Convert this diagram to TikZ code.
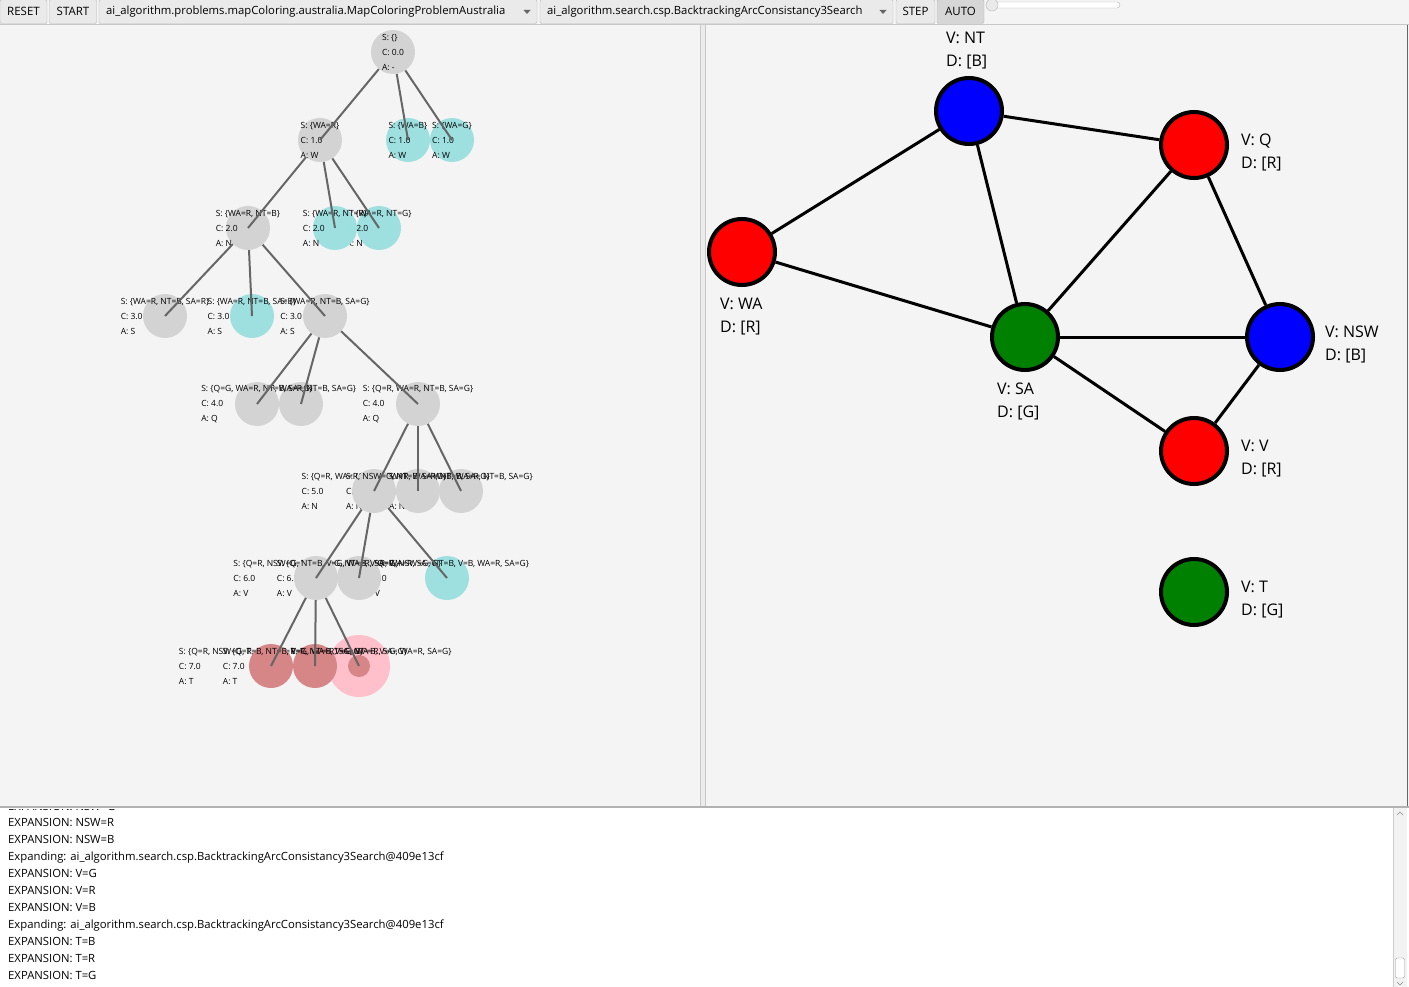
\documentclass[tikz,border=0pt]{standalone}
\usepackage{fontspec}
\setmainfont{Open Sans}

\definecolor{panelbg}{RGB}{244,244,244}
\definecolor{treegray}{RGB}{211,211,211}
\definecolor{treecyan}{RGB}{158,224,224}
\definecolor{deadpink}{RGB}{214,134,134}
\definecolor{goalpink}{RGB}{255,192,203}
\definecolor{edgegray}{RGB}{102,102,102}
\definecolor{sepgray}{RGB}{200,200,200}
\definecolor{btnborder}{RGB}{180,180,180}
\definecolor{btnfill}{RGB}{234,234,234}
\definecolor{btnpressed}{RGB}{214,214,214}
\definecolor{mapgreen}{RGB}{0,128,0}

\tikzset{
  tnode/.style={circle, fill=treegray, minimum size=44pt, inner sep=0pt},
  tfail/.style={tnode, fill=treecyan},
  tdead/.style={tnode, fill=deadpink},
  thalo/.style={circle, fill=goalpink, minimum size=62pt, inner sep=0pt},
  tcore/.style={circle, fill=deadpink, minimum size=22pt, inner sep=0pt},
  tinfo/.style={align=left, inner sep=0pt, font=\fontsize{8.5}{15}\selectfont},
  tedge/.style={draw=edgegray, line width=2pt},
  region/.style={circle, draw=black, line width=4pt, minimum size=66pt, inner sep=0pt},
  border/.style={black, line width=3pt},
  vlabel/.style={align=left, anchor=west, inner sep=0pt, font=\fontsize{16}{23}\selectfont},
  logline/.style={anchor=base west, inner sep=0pt, font=\fontsize{11.3}{14}\selectfont},
  tbutton/.style={draw=btnborder, fill=btnfill, rounded corners=2pt, minimum height=24pt, inner sep=0pt, font=\fontsize{11.5}{14}\selectfont},
  combotext/.style={anchor=west, inner sep=0pt, font=\fontsize{11.3}{14}\selectfont},
}

\begin{document}
\begin{tikzpicture}[x=1pt, y=-1pt]
	\useasboundingbox (0,0) rectangle (1409,987);
	
	% panels
	\fill[panelbg] (0,0) rectangle (1409,807);
	\draw[sepgray] (0,24.5) -- (1409,24.5);
	\fill[black!8] (700,25) rectangle (706,806);
	\draw[sepgray] (700.5,25) -- (700.5,806);
	\draw[sepgray] (705.5,25) -- (705.5,806);
	\draw[black!60] (1407.5,25) -- (1407.5,806);
	\fill[white] (0,808) rectangle (1409,987);
	\draw[black!30, line width=1.5pt] (0,807) -- (1409,807);
	
	% toolbar
	\node[tbutton, minimum width=47pt] (reset) at (23.5,11.5) {RESET};
	\node[tbutton, minimum width=47pt] (start) at (73,11.5) {START};
	\node[tbutton, minimum width=438pt] (problem) at (318,11.5) {};
	\node[combotext] (problem-t) at (106,11.5) {ai\_algorithm.problems.mapColoring.australia.MapColoringProblemAustralia};
	\fill[black!60] (523.5,10) -- (530.5,10) -- (527,14) -- cycle;
	\node[tbutton, minimum width=353pt] (search) at (716.5,11.5) {};
	\node[combotext] (search-t) at (547,11.5) {ai\_algorithm.search.csp.BacktrackingArcConsistancy3Search};
	\fill[black!60] (879.5,10) -- (886.5,10) -- (883,14) -- cycle;
	\node[tbutton, minimum width=39pt] (step) at (915.5,11.5) {STEP};
	\node[tbutton, minimum width=47pt, fill=btnpressed] (auto) at (960.5,11.5) {AUTO};
	\draw[btnborder, fill=white, rounded corners=3pt] (993,2) rectangle (1120,8);
	\draw[btnborder, fill=btnfill] (992,5) circle (6);
	
	% search tree, level 0
	\node[tnode] (n0) at (393,52) {};
	\node[tinfo] (n0-t) at (n0) {S: \{\}\\C: 0.0\\A: -};
	
	% level 1
	\node[tfail] (n1c) at (452,140) {};
	\node[tinfo] (n1c-t) at (n1c) {S: \{WA=G\}\\C: 1.0\\A: W};
	\node[tfail] (n1b) at (408,140) {};
	\node[tinfo] (n1b-t) at (n1b) {S: \{WA=B\}\\C: 1.0\\A: W};
	\node[tnode] (n1a) at (320,140) {};
	\node[tinfo] (n1a-t) at (n1a) {S: \{WA=R\}\\C: 1.0\\A: W};
	
	% level 2
	\node[tfail] (n2c) at (379,228) {};
	\node[tinfo] (n2c-t) at (n2c) {S: \{WA=R, NT=G\}\\C: 2.0\\A: N};
	\node[tfail] (n2b) at (335,228) {};
	\node[tinfo] (n2b-t) at (n2b) {S: \{WA=R, NT=R\}\\C: 2.0\\A: N};
	\node[tnode] (n2a) at (248,228) {};
	\node[tinfo] (n2a-t) at (n2a) {S: \{WA=R, NT=B\}\\C: 2.0\\A: N};
	
	% level 3
	\node[tnode] (n3c) at (325,316) {};
	\node[tinfo] (n3c-t) at (n3c) {S: \{WA=R, NT=B, SA=G\}\\C: 3.0\\A: S};
	\node[tfail] (n3b) at (252,316) {};
	\node[tinfo] (n3b-t) at (n3b) {S: \{WA=R, NT=B, SA=B\}\\C: 3.0\\A: S};
	\node[tnode] (n3a) at (165,316) {};
	\node[tinfo] (n3a-t) at (n3a) {S: \{WA=R, NT=B, SA=R\}\\C: 3.0\\A: S};
	
	% level 4
	\node[tnode] (n4c) at (418,404) {};
	\node[tinfo] (n4c-t) at (n4c) {S: \{Q=R, WA=R, NT=B, SA=G\}\\C: 4.0\\A: Q};
	\node[tnode] (n4b) at (301,404) {};
	\node[tinfo] (n4b-t) at (n4b) {S: \{Q=B, WA=R, NT=B, SA=G\}\\C: 4.0\\A: Q};
	\node[tnode] (n4a) at (257,404) {};
	\node[tinfo] (n4a-t) at (n4a) {S: \{Q=G, WA=R, NT=B, SA=G\}\\C: 4.0\\A: Q};
	
	% level 5
	\node[tnode] (n5c) at (461,491) {};
	\node[tinfo] (n5c-t) at (n5c) {S: \{Q=R, NSW=B, WA=R, NT=B, SA=G\}\\C: 5.0\\A: N};
	\node[tnode] (n5b) at (418,491) {};
	\node[tinfo] (n5b-t) at (n5b) {S: \{Q=R, NSW=R, WA=R, NT=B, SA=G\}\\C: 5.0\\A: N};
	\node[tnode] (n5a) at (374,491) {};
	\node[tinfo] (n5a-t) at (n5a) {S: \{Q=R, WA=R, NSW=G, NT=B, SA=G\}\\C: 5.0\\A: N};
	
	% level 6
	\node[tfail] (n6c) at (447,578) {};
	\node[tinfo] (n6c-t) at (n6c) {S: \{Q=R, NSW=G, NT=B, V=B, WA=R, SA=G\}\\C: 6.0\\A: V};
	\node[tnode] (n6b) at (359,578) {};
	\node[tinfo] (n6b-t) at (n6b) {S: \{Q=R, NSW=G, NT=B, V=R, WA=R, SA=G\}\\C: 6.0\\A: V};
	\node[tnode] (n6a) at (316,578) {};
	\node[tinfo] (n6a-t) at (n6a) {S: \{Q=R, NSW=G, NT=B, V=G, WA=R, SA=G\}\\C: 6.0\\A: V};
	
	% level 7
	\node[thalo] (n7c-halo) at (359,666) {};
	\node[tcore] (n7c) at (n7c-halo) {};
	\node[tinfo] (n7c-t) at (n7c) {S: \{Q=R, NSW=G, T=G, NT=B, V=G, WA=R, SA=G\}\\C: 7.0\\A: T};
	\node[tdead] (n7b) at (315,666) {};
	\node[tinfo] (n7b-t) at (n7b) {S: \{Q=R, NSW=G, T=R, NT=B, V=G, WA=R, SA=G\}\\C: 7.0\\A: T};
	\node[tdead] (n7a) at (271,666) {};
	\node[tinfo] (n7a-t) at (n7a) {S: \{Q=R, NSW=G, T=B, NT=B, V=G, WA=R, SA=G\}\\C: 7.0\\A: T};
	
	\draw[tedge] (n0) -- (n1a.center);
	\draw[tedge] (n0) -- (n1b.center);
	\draw[tedge] (n0) -- (n1c.center);
	\draw[tedge] (n1a) -- (n2a.center);
	\draw[tedge] (n1a) -- (n2b.center);
	\draw[tedge] (n1a) -- (n2c.center);
	\draw[tedge] (n2a) -- (n3a.center);
	\draw[tedge] (n2a) -- (n3b.center);
	\draw[tedge] (n2a) -- (n3c.center);
	\draw[tedge] (n3c) -- (n4a.center);
	\draw[tedge] (n3c) -- (n4b.center);
	\draw[tedge] (n3c) -- (n4c.center);
	\draw[tedge] (n4c) -- (n5a.center);
	\draw[tedge] (n4c) -- (n5b.center);
	\draw[tedge] (n4c) -- (n5c.center);
	\draw[tedge] (n5a) -- (n6a.center);
	\draw[tedge] (n5a) -- (n6b.center);
	\draw[tedge] (n5a) -- (n6c.center);
	\draw[tedge] (n6a) -- (n7a.center);
	\draw[tedge] (n6a) -- (n7b.center);
	\draw[tedge] (n6a) -- (n7c.center);
	
	% map graph
	\node[region, fill=blue] (nt) at (969,111) {};
	\node[region, fill=red] (q) at (1194,145) {};
	\node[region, fill=red] (wa) at (742,252) {};
	\node[region, fill=mapgreen] (sa) at (1025,337) {};
	\node[region, fill=blue] (nsw) at (1280,337) {};
	\node[region, fill=red] (v) at (1194,451) {};
	\node[region, fill=mapgreen] (t) at (1194,592) {};
	
	\node[vlabel] (nt-lbl) at (946,50.5) {V: NT\\D: [B]};
	\node[vlabel] (q-lbl) at (1241,152.5) {V: Q\\D: [R]};
	\node[vlabel] (wa-lbl) at (720,316.5) {V: WA\\D: [R]};
	\node[vlabel] (sa-lbl) at (997,401.5) {V: SA\\D: [G]};
	\node[vlabel] (nsw-lbl) at (1325,344.5) {V: NSW\\D: [B]};
	\node[vlabel] (v-lbl) at (1241,458.5) {V: V\\D: [R]};
	\node[vlabel] (t-lbl) at (1241,599.5) {V: T\\D: [G]};
	
	\draw[border] (nt) -- (q);
	\draw[border] (nt) -- (wa);
	\draw[border] (nt) -- (sa);
	\draw[border] (q) -- (sa);
	\draw[border] (q) -- (nsw);
	\draw[border] (wa) -- (sa);
	\draw[border] (sa) -- (nsw);
	\draw[border] (sa) -- (v);
	\draw[border] (nsw) -- (v);
	
	% log
	\begin{scope}
		\clip (0,809) rectangle (1393,987);
		\node[logline] (log0) at (8,810) {EXPANSION: NSW=G};
	\end{scope}
	\node[logline] (log1) at (8,826.5) {EXPANSION: NSW=R};
	\node[logline] (log2) at (8,843.5) {EXPANSION: NSW=B};
	\node[logline] (log3) at (8,860.5) {Expanding: ai\_algorithm.search.csp.BacktrackingArcConsistancy3Search@409e13cf};
	\node[logline] (log4) at (8,877.5) {EXPANSION: V=G};
	\node[logline] (log5) at (8,894.5) {EXPANSION: V=R};
	\node[logline] (log6) at (8,911.5) {EXPANSION: V=B};
	\node[logline] (log7) at (8,928.5) {Expanding: ai\_algorithm.search.csp.BacktrackingArcConsistancy3Search@409e13cf};
	\node[logline] (log8) at (8,945.5) {EXPANSION: T=B};
	\node[logline] (log9) at (8,962.5) {EXPANSION: T=R};
	\node[logline] (log10) at (8,979.5) {EXPANSION: T=G};
	
	% scrollbar
	\fill[black!5] (1393,808) rectangle (1407,987);
	\draw[black!20] (1393.5,808) -- (1393.5,987);
	\draw[black!45] (1397,815) -- (1400,812) -- (1403,815);
	\draw[black!45] (1397,982) -- (1400,985) -- (1403,982);
	\draw[black!40, fill=white, rounded corners=2pt] (1395.5,958) rectangle (1404.5,978);
	
\end{tikzpicture}
\end{document}
